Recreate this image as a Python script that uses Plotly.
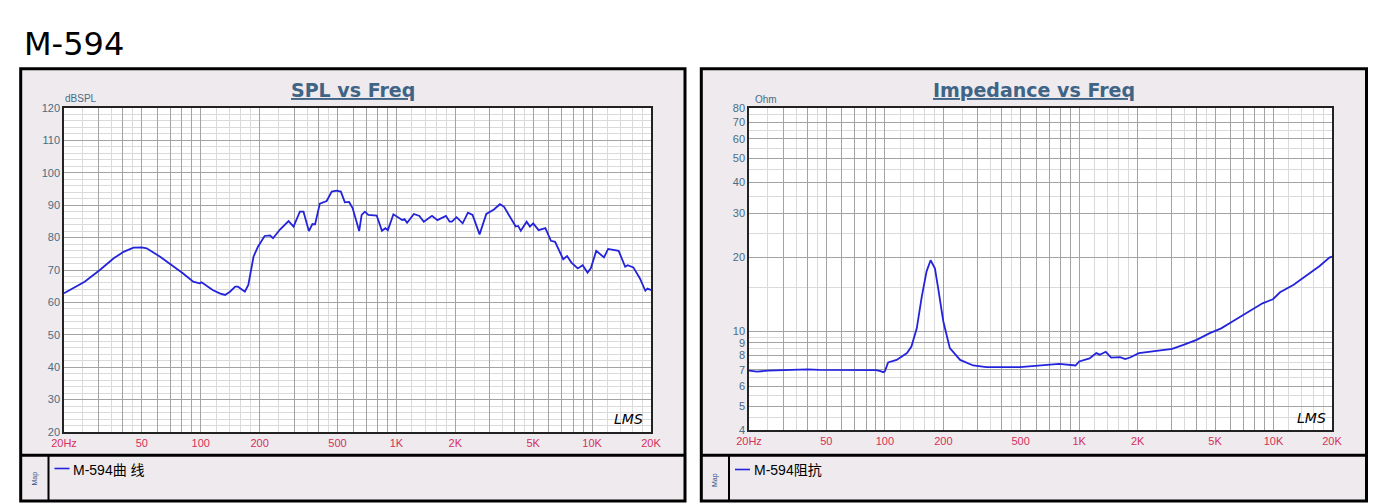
import math
import plotly.graph_objects as go

W, H = 1400, 504

# ---------------- data ----------------
spl_freq = [20, 25.5, 30.5, 35.9, 40.3, 45.3, 49.9, 52.9, 62, 72, 81, 91.5, 98.5, 101, 106, 115, 125,
            133, 141, 150, 155, 168, 175, 186, 196, 212, 226, 234, 254, 281, 298, 321, 335, 357, 372,
            384, 406, 440, 467, 494, 520, 545, 573, 597, 645, 664, 690, 718, 793, 843, 878, 904, 965,
            1004, 1070, 1100, 1134, 1228, 1310, 1380, 1520, 1620, 1790, 1870, 1920, 2030, 2180, 2320,
            2450, 2660, 2880, 3150, 3380, 3550, 3810, 4070, 4190, 4320, 4630, 4810, 5000, 5330, 5770,
            6160, 6470, 7120, 7450, 7840, 8450, 8950, 9480, 9850, 10500, 11500, 12080, 13670, 14760,
            15200, 16250, 17560, 18710, 19180, 20000]
spl_db = [62.8, 66.4, 70.0, 73.6, 75.6, 76.9, 77.0, 76.7, 74.1, 71.3, 69.0, 66.4, 65.9, 66.2, 65.2, 63.8, 62.8,
          62.3, 63.3, 64.85, 64.85, 63.3, 65.4, 74.1, 77.2, 80.5, 80.7, 79.8, 82.5, 85.1, 83.4, 88.0, 88.0, 82.0, 84.2,
          84.1, 90.5, 91.3, 94.2, 94.5, 94.2, 90.9, 91.0, 89.1, 82.0, 87.0, 88.0, 87.0, 86.8, 82.1, 82.9, 82.3, 87.2,
          86.5, 85.4, 85.7, 84.6, 87.3, 86.7, 84.9, 86.7, 85.4, 86.7, 84.9, 84.9, 86.3, 84.4, 87.7,
          87.0, 81.0, 87.3, 88.7, 90.3, 89.5, 86.4, 83.4, 83.6, 82.1, 84.9, 83.4, 84.4, 82.3, 82.9,
          79.0, 78.7, 73.3, 74.3, 72.3, 70.5, 71.5, 69.2, 70.5, 75.9, 73.9, 76.5, 75.9, 71.0,
          71.5, 70.8, 67.4, 63.6, 64.3, 63.8]

imp_freq = [20, 22, 25, 30, 35, 40, 46, 60, 80, 90, 95, 98, 100, 104, 115, 130, 137, 146, 155, 164, 172,
            181, 188, 200, 216, 244, 285, 333, 496, 730, 790, 958, 1000, 1131, 1225, 1277, 1370, 1460,
            1623, 1726, 1826, 2030, 2525, 3010, 3440, 4020, 4700, 5380, 6150, 6920, 7780, 8780, 9940,
            10800, 12640, 14740, 17280, 19400, 20000]
imp_ohm = [6.95, 6.88, 6.95, 6.98, 7.02, 7.03, 7.0, 7.0, 7.0, 6.98, 6.92, 6.85, 6.9, 7.5, 7.68, 8.18, 8.69,
           10.3, 13.86, 17.5, 19.4, 18.0, 15.0, 10.98, 8.57, 7.68, 7.29, 7.18, 7.18, 7.33, 7.4, 7.29, 7.57,
           7.78, 8.18, 8.06, 8.28, 7.85, 7.88, 7.74, 7.85, 8.18, 8.35, 8.51, 8.83, 9.25, 9.85, 10.3, 10.98,
           11.6, 12.2, 13.0, 13.5, 14.4, 15.4, 16.8, 18.4, 19.9, 20.1]

x_label_vals = [20, 50, 100, 200, 500, 1000, 2000, 5000, 10000, 20000]
x_label_text = ["20Hz", "50", "100", "200", "500", "1K", "2K", "5K", "10K", "20K"]
spl_ticks = [20, 30, 40, 50, 60, 70, 80, 90, 100, 110, 120]
imp_ticks = [4, 5, 6, 7, 8, 9, 10, 20, 30, 40, 50, 60, 70, 80]

# ---------------- helpers ----------------
def px(x):
    return x / W

def py(y):
    return 1 - y / H

decades = [10, 100, 1000, 10000]
x_major = sorted({m * d for d in decades for m in range(1, 10) if 20 <= m * d <= 20000})
x_major_text = [x_label_text[x_label_vals.index(v)] if v in x_label_vals else "" for v in x_major]
x_minor = sorted({m * d for d in decades for m in (1.2, 1.4, 1.6, 1.8, 2.5, 3.5, 4.5)
                  if 20 <= m * d <= 20000})
spl_minor = [v for v in range(20, 121, 2) if v % 10 != 0]
imp_minor = [4.5, 5.5, 6.5, 7.5, 8.5, 9.5, 15, 25, 35, 45, 55, 65, 75]

MAJ = "#a3a3a3"
MIN = "#dadada"
LINE = "#2323dc"
YLAB = "#4a6c84"
XLAB = "#d5305c"
TITLE = "#3f6485"
PANEL = "#eeeaee"

def xaxis(domain):
    return dict(type="log", domain=domain, range=[math.log10(20), math.log10(20000)],
                tickmode="array", tickvals=x_major, ticktext=x_major_text,
                showgrid=True, gridcolor=MAJ, gridwidth=1,
                minor=dict(tickmode="array", tickvals=x_minor, showgrid=True,
                           gridcolor=MIN, gridwidth=1, ticks=""),
                ticks="", tickfont=dict(family="Liberation Sans, Arial", size=11, color=XLAB),
                showline=True, linecolor="#222222", linewidth=1.5, mirror=True,
                zeroline=False, automargin=False, fixedrange=True)

fig = go.Figure()
fig.add_trace(go.Scatter(x=spl_freq, y=spl_db, mode="lines", name="M-594曲 线",
                         line=dict(color=LINE, width=1.8), xaxis="x", yaxis="y", showlegend=False))
fig.add_trace(go.Scatter(x=imp_freq, y=imp_ohm, mode="lines", name="M-594阻抗",
                         line=dict(color=LINE, width=1.8), xaxis="x2", yaxis="y2", showlegend=False))

shapes = []
# frames
for (x0, x1, cell) in [(20.7, 685.0, 48.5), (701.3, 1366.5, 729.0)]:
    shapes.append(dict(type="rect", xref="paper", yref="paper", layer="below",
                       x0=px(x0), x1=px(x1), y0=py(501), y1=py(68.8),
                       fillcolor=PANEL, line=dict(color="black", width=3)))
    shapes.append(dict(type="line", xref="paper", yref="paper", layer="below",
                       x0=px(x0), x1=px(x1), y0=py(455.3), y1=py(455.3),
                       line=dict(color="black", width=3)))
    shapes.append(dict(type="line", xref="paper", yref="paper", layer="below",
                       x0=px(cell), x1=px(cell), y0=py(455.3), y1=py(501),
                       line=dict(color="black", width=2)))
# plot area backgrounds
for (x0, x1, y0, y1) in [(64, 651, 108, 432), (749, 1332, 108, 430)]:
    shapes.append(dict(type="rect", xref="paper", yref="paper", layer="below",
                       x0=px(x0), x1=px(x1), y0=py(y1), y1=py(y0),
                       fillcolor="white", line=dict(width=0)))
# legend swatches
for (x0, x1, yy) in [(54.5, 69.5, 468.5), (735, 750, 469.5)]:
    shapes.append(dict(type="line", xref="paper", yref="paper",
                       x0=px(x0), x1=px(x1), y0=py(yy), y1=py(yy),
                       line=dict(color=LINE, width=1.6)))

ann = []
def text(x, y, t, size, color, family="Liberation Sans, Arial", xanchor="left", angle=0):
    ann.append(dict(x=px(x), y=py(y), xref="paper", yref="paper", text=t, showarrow=False,
                    xanchor=xanchor, yanchor="middle", textangle=angle,
                    font=dict(size=size, color=color, family=family)))

text(22, 44, "M-594", 32, "black", family="DejaVu Sans")
text(353, 89.5, "<u><b>SPL vs Freq</b></u>", 19, TITLE, family="DejaVu Sans", xanchor="center")
text(1034, 89.5, "<u><b>Impedance vs Freq</b></u>", 19, TITLE, family="DejaVu Sans", xanchor="center")
text(63, 99, "dBSPL", 10, YLAB)
text(753, 100, "Ohm", 10, YLAB)
text(628, 419, "<i>LMS</i>", 14, "black", family="DejaVu Sans", xanchor="center")
text(1311, 418, "<i>LMS</i>", 14, "black", family="DejaVu Sans", xanchor="center")
text(71, 469.5, "M-594曲 线", 14, "black", family="Liberation Sans, Noto Sans CJK SC")
text(752, 470, "M-594阻抗", 14, "black", family="Liberation Sans, Noto Sans CJK SC")
text(34.5, 479, "Map", 7, "#2c4f8a", xanchor="center", angle=-90)
text(715, 480, "Map", 7, "#2c4f8a", xanchor="center", angle=-90)

fig.update_layout(
    width=W, height=H, margin=dict(l=0, r=0, t=0, b=0, pad=0),
    paper_bgcolor="white", plot_bgcolor="white",
    xaxis=xaxis([px(64), px(651)]),
    xaxis2=xaxis([px(749), px(1332)]),
    yaxis=dict(domain=[py(432), py(108)], range=[20, 120], tickmode="array",
               tickvals=spl_ticks, ticktext=[str(v) for v in spl_ticks],
               showgrid=True, gridcolor=MAJ, gridwidth=1,
               minor=dict(tickmode="array", tickvals=spl_minor, showgrid=True,
                          gridcolor=MIN, gridwidth=1, ticks=""),
               ticks="", tickfont=dict(family="Liberation Sans, Arial", size=11, color=YLAB),
               showline=True, linecolor="#222222", linewidth=1.5, mirror=True,
               zeroline=False, automargin=False, fixedrange=True, anchor="x"),
    yaxis2=dict(type="log", domain=[py(430), py(108)], range=[math.log10(4), math.log10(80)],
                tickmode="array", tickvals=imp_ticks, ticktext=[str(v) for v in imp_ticks],
                showgrid=True, gridcolor=MAJ, gridwidth=1,
                minor=dict(tickmode="array", tickvals=imp_minor, showgrid=True,
                           gridcolor=MIN, gridwidth=1, ticks=""),
                ticks="", tickfont=dict(family="Liberation Sans, Arial", size=11, color=YLAB),
                showline=True, linecolor="#222222", linewidth=1.5, mirror=True,
                zeroline=False, automargin=False, fixedrange=True, anchor="x2"),
    shapes=shapes, annotations=ann, showlegend=False,
)
fig.update_layout(xaxis_anchor="y", xaxis2_anchor="y2")

fig.write_html("out.html", config={"displayModeBar": False},
               post_script="document.body.style.margin='0';document.body.style.overflow='hidden';")
